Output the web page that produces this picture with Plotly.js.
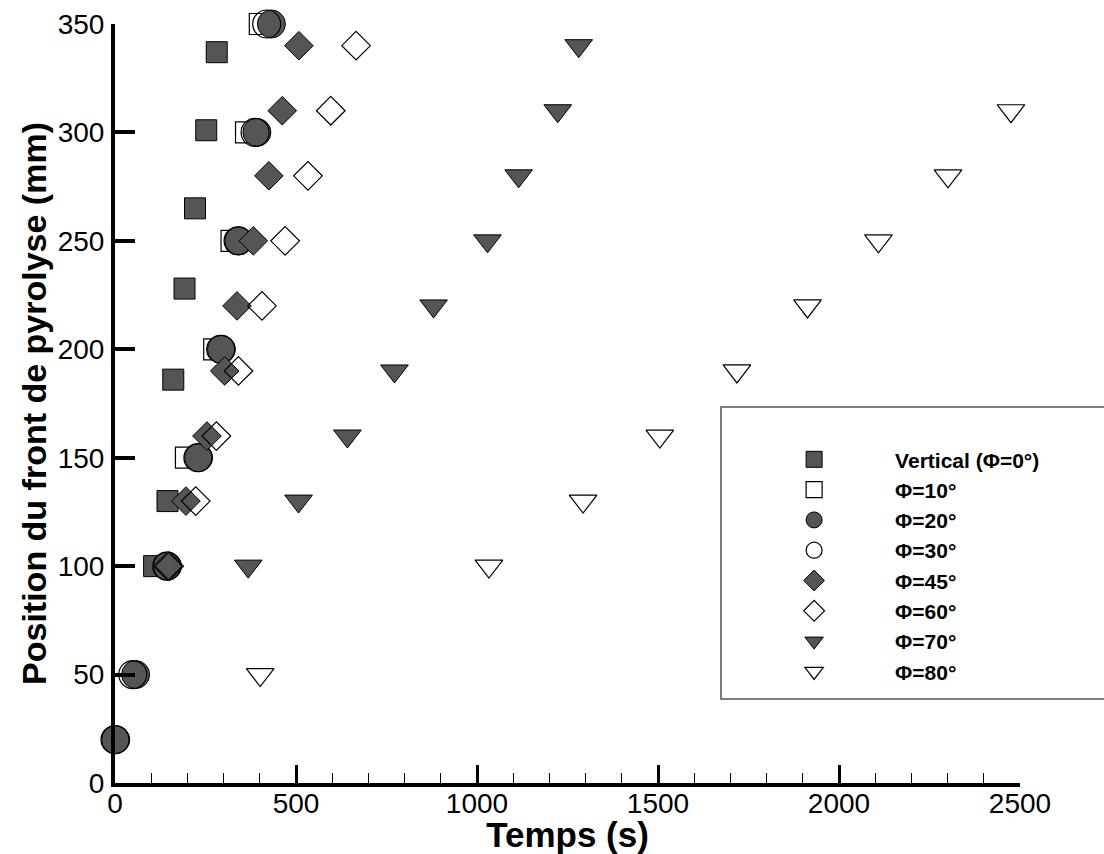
<!DOCTYPE html>
<html>
<head>
<meta charset="utf-8">
<script src="https://cdn.plot.ly/plotly-3.0.1.min.js"></script>
<style>
  html, body { margin: 0; padding: 0; background: #ffffff; }
  #chart { width: 1104px; height: 854px; }
</style>
</head>
<body>
<div id="chart"></div>
<script>
// ---- data ----
const seriesNames = ["Vertical (\u03A6=0\u00B0)", "\u03A6=10\u00B0", "\u03A6=20\u00B0", "\u03A6=30\u00B0",
                     "\u03A6=45\u00B0", "\u03A6=60\u00B0", "\u03A6=70\u00B0", "\u03A6=80\u00B0"];

const tVertical = [108, 145, 161, 192, 221, 252, 281];
const pVertical = [100, 130, 186, 228, 265, 301, 337];

const tPhi10 = [196, 274, 322, 362, 400];
const pPhi10 = [150, 200, 250, 300, 350];

const tPhi20 = [2, 57, 145, 231, 294, 342, 392, 432];
const pPhi20 = [20, 50, 100, 150, 200, 250, 300, 350];

const tPhi30 = [0, 49, 143, 229, 292, 340, 387, 419];
const pPhi30 = [20, 50, 100, 150, 200, 250, 300, 350];

const tPhi45 = [145, 196, 254, 303, 337, 382, 425, 462, 508];
const pPhi45 = [100, 130, 160, 190, 220, 250, 280, 310, 340];

const tPhi60 = [150, 223, 280, 341, 406, 470, 533, 596, 666];
const pPhi60 = [100, 130, 160, 190, 220, 250, 280, 310, 340];

const tPhi70 = [368, 507, 642, 772, 880, 1029, 1115, 1223, 1281];
const pPhi70 = [100, 130, 160, 190, 220, 250, 280, 310, 340];

const tPhi80 = [401, 1033, 1293, 1505, 1718, 1913, 2109, 2301, 2475];
const pPhi80 = [50, 100, 130, 160, 190, 220, 250, 280, 310];

const xRange = [0, 2500];
const yRange = [0, 350];
const xMajorStep = 500, xMinorStep = 100, yMajorStep = 50;

// ---- styling ----
const FILL = "#555555";
const INK = "black";
const FONT = "Liberation Sans, Arial, Helvetica, sans-serif";

function filled(name, x, y, symbol, size) {
  return {
    type: "scatter", mode: "markers", name: name, x: x, y: y, cliponaxis: false,
    marker: { symbol: symbol, size: size, color: FILL, line: { color: INK, width: 1 } }
  };
}
function hollow(name, x, y, symbol, size) {
  return {
    type: "scatter", mode: "markers", name: name, x: x, y: y, cliponaxis: false,
    marker: { symbol: symbol + "-open", size: size, color: INK, line: { color: INK, width: 1.2 } }
  };
}

const traces = [
  filled(seriesNames[0], tVertical, pVertical, "square", 21),
  hollow(seriesNames[1], tPhi10, pPhi10, "square", 21),
  filled(seriesNames[2], tPhi20, pPhi20, "circle", 28),
  hollow(seriesNames[3], tPhi30, pPhi30, "circle", 28),
  filled(seriesNames[4], tPhi45, pPhi45, "diamond", 22),
  hollow(seriesNames[5], tPhi60, pPhi60, "diamond", 22),
  filled(seriesNames[6], tPhi70, pPhi70, "triangle-down", 24),
  hollow(seriesNames[7], tPhi80, pPhi80, "triangle-down", 24)
];

const layout = {
  width: 1104, height: 854,
  margin: { l: 115, r: 84, t: 24, b: 71 },
  paper_bgcolor: "#fff", plot_bgcolor: "#fff",
  font: { family: FONT, color: INK },
  showlegend: true,
  xaxis: {
    range: xRange, autorange: false,
    tickmode: "linear", tick0: 0, dtick: xMajorStep,
    showline: true, linecolor: INK, linewidth: 4,
    ticks: "inside", ticklen: 18, tickwidth: 3, tickcolor: INK,
    minor: { dtick: xMinorStep, ticks: "inside", ticklen: 10, tickwidth: 1, tickcolor: INK },
    showgrid: false, zeroline: false, automargin: false,
    tickfont: { family: FONT, size: 28, color: INK },
    ticklabelstandoff: -8,
    title: { text: "Temps (s)", font: { family: FONT, size: 35, weight: "bold", color: INK }, standoff: 8 }
  },
  yaxis: {
    range: yRange, autorange: false,
    tickmode: "linear", tick0: 0, dtick: yMajorStep,
    showline: true, linecolor: INK, linewidth: 4,
    ticks: "inside", ticklen: 20, tickwidth: 4, tickcolor: INK,
    showgrid: false, zeroline: false, automargin: false,
    tickfont: { family: FONT, size: 28, color: INK },
    ticklabelstandoff: 1,
    title: { text: "Position du front de pyrolyse (mm)", font: { family: FONT, size: 34, weight: "bold", color: INK }, standoff: 2 }
  },
  legend: {
    x: 0.683, y: 0.453, xanchor: "left", yanchor: "top",
    bgcolor: "rgba(0,0,0,0)", borderwidth: 0,
    itemwidth: 152,
    font: { family: FONT, size: 21, weight: "bold", color: INK }
  },
  shapes: [{
    type: "rect", xref: "paper", yref: "paper",
    x0: 0.6696, x1: 1.12, y0: 0.1107, y1: 0.4954,
    line: { color: "#555555", width: 1.5 }, layer: "below"
  }]
};

Plotly.newPlot("chart", traces, layout, { displayModeBar: false });
</script>
</body>
</html>
